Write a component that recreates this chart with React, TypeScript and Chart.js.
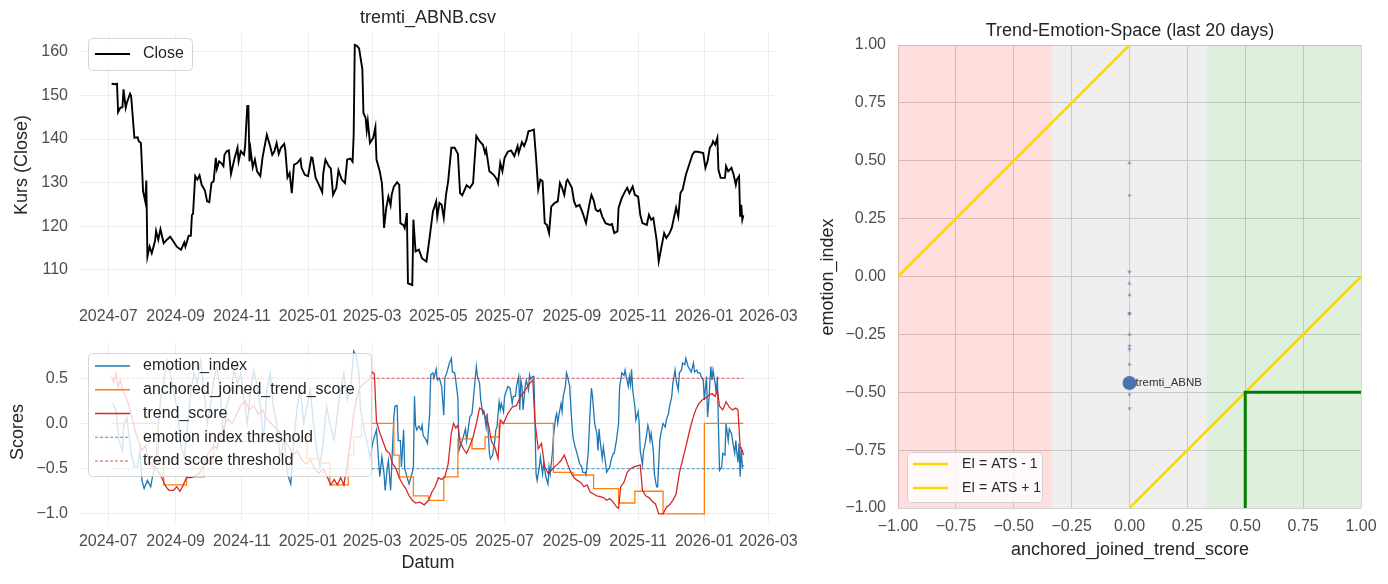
import React, { useEffect, useRef } from 'react';
import { Chart, registerables } from 'chart.js';

Chart.register(...registerables);

const FONT = "'Liberation Sans', Arial, 'DejaVu Sans', sans-serif";

// ---------- DATA ----------
const START_DATE = '2024-07-01'; // day 0 of the day offsets below
const monthTickLabels = ['2024-07', '2024-09', '2024-11', '2025-01', '2025-03', '2025-05', '2025-07', '2025-09', '2025-11', '2026-01', '2026-03'];
const priceTicks = [110, 120, 130, 140, 150, 160];
const scoreTicks = [-1, -0.5, 0, 0.5];
const spaceTicks = [-1, -0.75, -0.5, -0.25, 0, 0.25, 0.5, 0.75, 1];

// Close price (trading day offsets after START_DATE)
const closeDay = [3, 7, 8, 9, 11, 13, 14, 16, 17, 20, 21, 24, 27, 28, 30, 32, 34, 35, 36, 38, 40, 43, 44, 46, 48, 51, 54, 57, 60, 63, 67, 70, 71, 74, 76, 77, 78, 80, 82, 84, 86, 89, 91, 93, 95, 97, 99, 100, 102, 104, 106, 107, 109, 111, 113, 116, 119, 120, 122, 125, 126, 128, 129, 130, 131, 133, 135, 137, 140, 142, 144, 146, 149, 151, 153, 155, 157, 159, 162, 163, 165, 167, 169, 171, 174, 177, 178, 181, 184, 187, 188, 191, 194, 197, 198, 200, 203, 205, 207, 210, 212, 215, 218, 220, 223, 225, 226, 227, 229, 231, 234, 235, 237, 238, 239, 241, 244, 246, 247, 250, 252, 253, 254, 256, 258, 260, 261, 263, 266, 268, 269, 272, 273, 275, 276, 280, 281, 283, 286, 289, 293, 296, 299, 302, 303, 305, 307, 309, 311, 313, 316, 319, 322, 324, 326, 330, 333, 336, 337, 339, 342, 345, 347, 348, 351, 355, 358, 359, 361, 363, 365, 368, 371, 374, 377, 378, 381, 383, 385, 387, 390, 392, 394, 396, 398, 400, 402, 404, 406, 408, 411, 414, 416, 418, 420, 422, 423, 427, 429, 431, 434, 437, 440, 443, 445, 447, 449, 451, 453, 455, 458, 462, 464, 466, 469, 470, 473, 476, 478, 480, 483, 485, 488, 490, 492, 496, 498, 500, 502, 505, 507, 509, 512, 514, 517, 519, 523, 525, 527, 529, 532, 535, 538, 540, 543, 548, 550, 552, 554, 556, 557, 559, 561, 562, 564, 568, 569, 571, 574, 576, 578, 579, 581, 582, 583, 584, 585];
const closeValue = [152.7, 152.6, 152.7, 146.2, 147.2, 147.3, 151.4, 147.2, 148.3, 150.4, 149.9, 140.3, 140.4, 139.5, 139.1, 128.0, 125.7, 130.5, 113.0, 115.3, 113.8, 116.6, 118.9, 116.9, 119.3, 116.1, 116.9, 117.6, 116.5, 115.3, 114.6, 116.3, 115.3, 117.8, 117.8, 122.6, 122.8, 131.5, 130.7, 131.7, 129.5, 128.2, 125.7, 125.5, 129.9, 130.3, 135.7, 133.2, 134.9, 134.5, 133.8, 136.4, 137.2, 137.4, 132.0, 135.3, 138.0, 134.9, 137.2, 136.4, 138.4, 147.6, 147.6, 134.9, 137.6, 133.5, 135.3, 132.6, 131.5, 135.7, 138.4, 141.0, 138.4, 136.4, 137.2, 139.1, 136.6, 138.0, 138.9, 137.6, 131.2, 132.2, 127.6, 134.1, 134.5, 135.4, 133.4, 131.8, 131.5, 135.8, 135.7, 131.1, 129.5, 127.8, 132.2, 135.3, 133.8, 133.2, 127.2, 128.8, 132.8, 130.7, 129.9, 135.3, 135.5, 134.8, 141.0, 161.6, 161.4, 160.8, 156.0, 146.0, 144.9, 142.0, 144.1, 139.1, 140.3, 142.7, 135.3, 132.6, 129.9, 125.7, 119.6, 124.2, 126.8, 124.8, 127.2, 129.1, 130.1, 129.5, 120.7, 120.2, 119.6, 123.0, 106.9, 106.5, 121.5, 114.2, 114.6, 112.6, 111.9, 117.5, 123.4, 125.7, 122.2, 125.3, 124.9, 121.9, 127.1, 130.3, 138.0, 138.0, 136.6, 127.6, 127.1, 129.4, 128.8, 129.9, 133.8, 140.7, 139.5, 138.7, 136.8, 137.6, 132.6, 131.8, 130.7, 129.9, 134.5, 132.6, 135.7, 137.1, 137.4, 136.1, 138.4, 136.8, 139.3, 138.4, 139.7, 141.8, 142.0, 142.2, 135.7, 128.4, 130.7, 130.3, 120.7, 120.3, 118.4, 124.5, 125.3, 125.7, 129.9, 128.8, 127.2, 130.3, 130.7, 128.8, 125.7, 124.5, 124.9, 123.0, 120.7, 124.9, 127.2, 126.0, 123.8, 123.4, 123.8, 122.2, 120.7, 120.3, 120.5, 118.4, 118.8, 124.2, 126.5, 128.0, 128.8, 127.6, 129.1, 127.2, 126.8, 122.6, 120.7, 120.3, 122.6, 121.5, 121.9, 116.9, 111.9, 114.6, 118.4, 117.3, 118.4, 119.6, 124.3, 122.2, 127.6, 128.4, 131.8, 134.1, 136.4, 137.1, 137.1, 136.8, 133.4, 134.9, 138.0, 138.7, 139.5, 138.7, 140.3, 133.0, 131.1, 131.1, 133.8, 132.6, 133.4, 131.8, 129.5, 130.7, 131.5, 122.2, 124.9, 121.5, 122.5];

// emotion_index
const emotionDay = [4, 7, 10, 13, 14, 17, 21, 24, 27, 29, 31, 33, 36, 39, 41, 44, 45, 48, 51, 54, 57, 63, 67, 70, 73, 76, 79, 82, 85, 88, 91, 94, 97, 100, 103, 106, 109, 113, 116, 119, 122, 125, 128, 131, 134, 137, 140, 143, 146, 149, 152, 155, 158, 162, 165, 168, 171, 174, 177, 180, 183, 186, 189, 192, 195, 198, 201, 204, 208, 211, 214, 217, 220, 223, 226, 228, 231, 232, 235, 238, 241, 244, 247, 250, 252, 254, 255, 257, 258, 260, 261, 263, 264, 266, 267, 269, 270, 272, 273, 276, 277, 280, 281, 282, 283, 284, 286, 288, 289, 290, 293, 294, 296, 297, 299, 300, 302, 303, 305, 307, 309, 310, 312, 314, 316, 317, 319, 320, 322, 323, 325, 326, 329, 330, 332, 333, 335, 337, 339, 340, 342, 343, 345, 346, 348, 349, 351, 352, 354, 356, 357, 358, 360, 361, 362, 364, 365, 367, 368, 370, 372, 373, 375, 376, 378, 379, 380, 381, 382, 384, 385, 387, 388, 389, 391, 392, 393, 394, 395, 397, 398, 400, 401, 403, 405, 406, 407, 409, 410, 412, 413, 414, 415, 417, 418, 419, 421, 422, 423, 425, 426, 427, 428, 430, 431, 433, 434, 436, 437, 439, 440, 442, 444, 445, 446, 447, 448, 450, 451, 452, 453, 455, 456, 458, 459, 460, 462, 463, 465, 466, 468, 470, 471, 472, 473, 475, 476, 477, 479, 480, 481, 482, 483, 485, 486, 488, 489, 490, 492, 493, 494, 496, 497, 498, 499, 500, 502, 503, 505, 506, 508, 509, 511, 513, 514, 516, 517, 519, 520, 522, 523, 525, 526, 528, 529, 531, 532, 534, 536, 537, 539, 540, 542, 543, 545, 546, 548, 549, 551, 552, 553, 555, 556, 557, 559, 560, 561, 562, 563, 565, 566, 568, 569, 571, 572, 574, 575, 577, 578, 579, 580, 581, 582, 583, 584, 585];
const emotionValue = [0.22, 0.15, -0.19, -0.30, -0.04, 0.07, -0.33, -0.48, -0.48, -0.30, -0.63, -0.72, -0.63, -0.70, -0.57, -0.44, -0.19, 0.26, 0.44, 0.70, 0.55, 0.19, -0.26, -0.37, -0.04, 0.37, 0.56, 0.44, 0.70, 0.37, 0.00, 0.19, 0.48, 0.63, 0.37, -0.19, 0.19, 0.37, 0.59, 0.44, 0.56, 0.26, 0.00, 0.37, 0.59, 0.41, 0.19, -0.19, 0.37, 0.56, 0.19, 0.00, -0.37, -0.19, -0.56, -0.67, -0.19, 0.19, 0.37, 0.00, 0.19, 0.37, 0.00, -0.30, -0.48, -0.19, 0.19, 0.00, -0.19, 0.11, 0.37, 0.56, 0.26, 0.37, 0.80, 0.76, 0.56, 0.19, -0.04, -0.19, -0.37, -0.19, -0.07, -0.59, -0.37, -0.56, -0.74, -0.48, -0.41, -0.74, -0.48, 0.07, 0.19, 0.20, -0.19, -0.19, -0.48, -0.07, -0.50, -0.63, -0.67, -0.54, -0.48, 0.30, -0.02, -0.07, -0.03, -0.07, -0.02, -0.13, -0.19, -0.22, 0.11, 0.54, 0.56, 0.50, 0.60, 0.48, 0.50, 0.41, 0.09, 0.50, 0.57, 0.66, 0.72, 0.57, 0.56, 0.48, 0.28, -0.30, -0.22, -0.19, -0.06, -0.19, -0.02, 0.07, 0.11, 0.37, 0.63, 0.52, 0.44, 0.26, 0.11, 0.13, -0.04, 0.11, -0.33, -0.39, -0.35, -0.19, -0.07, -0.04, 0.24, 0.15, 0.22, 0.13, 0.30, 0.37, 0.41, 0.39, 0.22, 0.30, 0.30, 0.41, 0.52, 0.15, 0.48, 0.41, 0.15, 0.41, 0.48, 0.37, 0.54, 0.49, 0.52, 0.52, 0.02, -0.56, -0.63, -0.48, -0.37, -0.56, -0.44, -0.59, -0.67, -0.48, -0.56, -0.33, -0.15, 0.07, 0.11, 0.00, 0.09, 0.22, 0.13, 0.30, 0.41, 0.56, 0.52, 0.41, 0.19, 0.00, -0.15, -0.26, -0.30, -0.39, -0.44, -0.48, -0.54, -0.54, -0.57, -0.33, 0.19, 0.39, 0.30, 0.15, 0.00, -0.11, -0.30, -0.06, -0.19, -0.39, -0.26, -0.44, -0.54, -0.52, -0.48, -0.41, -0.33, -0.33, -0.19, 0.00, 0.41, 0.48, 0.56, 0.53, 0.59, 0.52, 0.41, 0.52, 0.43, 0.60, 0.37, 0.19, 0.04, 0.13, 0.00, -0.30, -0.46, -0.30, -0.26, -0.11, -0.02, -0.07, -0.19, -0.11, -0.30, -0.56, -0.70, -0.70, -0.19, -0.11, 0.00, -0.04, 0.04, 0.11, 0.19, 0.30, 0.44, 0.59, 0.48, 0.37, 0.56, 0.59, 0.67, 0.65, 0.72, 0.63, 0.59, 0.57, 0.67, 0.57, 0.59, 0.56, 0.56, 0.52, 0.48, 0.26, 0.52, 0.07, 0.22, 0.63, 0.48, 0.59, 0.44, 0.33, 0.52, -0.04, -0.52, -0.48, -0.33, -0.35, 0.00, -0.19, -0.06, -0.11, -0.19, -0.33, -0.19, -0.33, -0.43, -0.22, -0.59, -0.26, -0.48, -0.46];

// trend_score
const trendDay = [3, 5, 7, 9, 11, 13, 16, 19, 22, 25, 28, 31, 34, 37, 40, 44, 47, 50, 53, 56, 60, 63, 66, 69, 72, 76, 80, 84, 88, 91, 94, 97, 100, 103, 106, 110, 114, 118, 122, 126, 130, 134, 138, 142, 146, 150, 154, 158, 162, 166, 170, 174, 178, 182, 186, 190, 194, 198, 202, 205, 208, 211, 214, 217, 220, 223, 226, 229, 232, 236, 240, 243, 245, 247, 250, 253, 256, 259, 262, 265, 268, 271, 274, 277, 280, 283, 287, 291, 295, 298, 301, 304, 307, 310, 313, 316, 318, 320, 322, 324, 327, 330, 333, 336, 339, 342, 345, 348, 350, 353, 356, 359, 361, 364, 368, 372, 376, 380, 384, 388, 391, 393, 396, 399, 402, 405, 408, 411, 414, 417, 420, 423, 426, 429, 432, 435, 438, 441, 444, 447, 450, 453, 456, 459, 462, 465, 468, 470, 472, 475, 478, 481, 484, 487, 490, 492, 495, 498, 501, 504, 507, 511, 514, 517, 520, 523, 526, 529, 532, 535, 538, 541, 544, 547, 550, 553, 556, 559, 561, 563, 566, 569, 572, 575, 578, 580, 582, 584, 585];
const trendValue = [0.52, 0.45, 0.55, 0.40, 0.48, 0.38, 0.30, 0.20, 0.05, -0.10, -0.20, -0.30, -0.25, -0.40, -0.45, -0.50, -0.55, -0.62, -0.70, -0.74, -0.74, -0.70, -0.75, -0.68, -0.60, -0.60, -0.58, -0.55, -0.45, -0.35, -0.30, -0.25, -0.28, -0.15, -0.05, 0.05, 0.00, 0.10, 0.20, 0.25, 0.15, 0.20, 0.10, 0.15, 0.05, 0.00, -0.05, -0.10, -0.20, -0.25, -0.35, -0.30, -0.40, -0.45, -0.40, -0.50, -0.55, -0.50, -0.60, -0.68, -0.62, -0.68, -0.60, -0.68, -0.45, -0.20, 0.10, 0.30, 0.40, 0.45, 0.48, 0.57, 0.55, 0.02, -0.10, -0.20, -0.30, -0.33, -0.45, -0.50, -0.60, -0.67, -0.72, -0.80, -0.85, -0.88, -0.87, -0.90, -0.85, -0.76, -0.70, -0.60, -0.62, -0.59, -0.45, -0.10, 0.00, -0.05, -0.02, -0.20, -0.28, -0.33, -0.25, -0.15, 0.00, 0.17, 0.15, 0.05, 0.00, -0.20, -0.26, -0.39, 0.04, 0.00, 0.11, 0.18, 0.20, 0.30, 0.37, 0.44, 0.48, 0.02, -0.28, -0.22, -0.48, -0.55, -0.52, -0.48, -0.45, -0.41, -0.35, -0.45, -0.54, -0.60, -0.63, -0.65, -0.70, -0.68, -0.76, -0.78, -0.80, -0.81, -0.82, -0.85, -0.83, -0.87, -0.92, -0.94, -0.70, -0.65, -0.54, -0.50, -0.48, -0.47, -0.46, -0.74, -0.80, -0.82, -0.86, -0.89, -1.00, -1.00, -0.93, -0.90, -0.85, -0.78, -0.55, -0.40, -0.26, -0.10, 0.04, 0.15, 0.22, 0.26, 0.28, 0.31, 0.33, 0.30, 0.37, 0.19, 0.15, 0.24, 0.18, 0.15, 0.17, 0.15, -0.26, -0.30, -0.35];

// anchored_joined_trend_score (step changes: value starting at that day)
const anchoredDay = [3, 46, 51, 72, 88, 97, 183, 195, 204, 221, 226, 233, 263, 268, 281, 295, 309, 322, 335, 347, 360, 410, 428, 447, 470, 485, 511, 549, 585];
const anchoredValue = [0.0, -0.45, -0.68, -0.59, -0.44, -0.2, -0.39, -0.44, -0.68, -0.35, -0.15, 0.0, -0.35, -0.59, -0.8, -0.85, -0.59, -0.17, -0.28, -0.15, 0.0, -0.54, -0.57, -0.72, -0.88, -0.75, -1.0, 0.0, 0.0];

const emotionThreshold = -0.5;
const trendThreshold = 0.5;

// Trend-Emotion-Space (last 20 days)
const zoneEdges = [-1, -1 / 3, 1 / 3, 1];
const zoneColors = ['rgba(255,0,0,0.13)', 'rgba(128,128,128,0.13)', 'rgba(0,128,0,0.13)'];
const pathATS = [0, 0, 0, 0, 0, 0, 0, 0, 0, 0, 0, 0, 0];
const pathEI = [0.49, 0.35, 0.02, -0.03, -0.08, -0.16, -0.16, -0.25, -0.30, -0.315, -0.38, -0.51, -0.57];
const pathArrowDir = ['up', 'down', 'down', 'up', 'up', 'up', 'down', 'up', 'down', 'down', 'up', 'down', 'down'];
const currentATS = 0;
const currentEI = -0.46;
const tickerLabel = 'tremti_ABNB';

// ---------- HELPERS ----------
const dayOf = (iso: string) => {
  const [y, m, d] = iso.split('-').map(Number);
  const [y0, m0, d0] = START_DATE.split('-').map(Number);
  return (Date.UTC(y, m - 1, d || 1) - Date.UTC(y0, m0 - 1, d0)) / 86400000;
};
const monthTickDays = monthTickLabels.map(dayOf);
const minus = (v: number, d: number) => (v < 0 ? '\u2212' : '') + Math.abs(v).toFixed(d);
const pts = (xs: number[], ys: number[]) => xs.map((x, i) => ({ x, y: ys[i] }));

const firstDay = Math.min(closeDay[0], emotionDay[0], trendDay[0]);
const lastDay = Math.max(closeDay[closeDay.length - 1], emotionDay[emotionDay.length - 1]);
const xPad = (lastDay - firstDay) * 0.05;
const X_MIN = firstDay - xPad;
const X_MAX = lastDay + xPad;

const cMin = Math.min(...closeValue), cMax = Math.max(...closeValue);
const cPad = (cMax - cMin) * 0.05;
const sAll = [...emotionValue, ...trendValue, ...anchoredValue];
const sMin = Math.min(...sAll), sMax = Math.max(...sAll);
const sPad = (sMax - sMin) * 0.05;

const TICK_COLOR = '#4d4d4d';
const LABEL_COLOR = '#262626';
const TICK_SIZE = 16;
const LABEL_SIZE = 18;

function text(ctx: CanvasRenderingContext2D, s: string, x: number, y: number, size: number, color: string, rotate = 0, align: CanvasTextAlign = 'center') {
  ctx.save();
  ctx.translate(x, y);
  if (rotate) ctx.rotate(rotate);
  ctx.font = `${size}px ${FONT}`;
  ctx.fillStyle = color;
  ctx.textAlign = align;
  ctx.textBaseline = 'middle';
  ctx.fillText(s, 0, 0);
  ctx.restore();
}

type LegendItem = { label: string; color: string; width: number; dash?: number[] };
function legend(ctx: CanvasRenderingContext2D, x: number, y: number, w: number, h: number, items: LegendItem[], firstY: number, step: number, l0: number, l1: number, tx: number, size: number) {
  ctx.save();
  ctx.beginPath();
  (ctx as any).roundRect(x + 0.5, y + 0.5, w, h, 4);
  ctx.fillStyle = 'rgba(255,255,255,0.8)';
  ctx.fill();
  ctx.strokeStyle = 'rgba(204,204,204,0.8)';
  ctx.lineWidth = 1;
  ctx.stroke();
  items.forEach((it, i) => {
    const yy = firstY + i * step;
    ctx.beginPath();
    ctx.setLineDash(it.dash || []);
    ctx.strokeStyle = it.color;
    ctx.lineWidth = it.width;
    ctx.moveTo(l0, yy);
    ctx.lineTo(l1, yy);
    ctx.stroke();
    ctx.setLineDash([]);
    text(ctx, it.label, tx, yy, size, LABEL_COLOR, 0, 'left');
  });
  ctx.restore();
}

const baseOptions = (padding: any) => ({
  responsive: false,
  maintainAspectRatio: false,
  animation: false as const,
  devicePixelRatio: 1,
  events: [] as any[],
  layout: { padding },
  plugins: { legend: { display: false }, tooltip: { enabled: false }, title: { display: false } },
});

const tickFont = { family: FONT, size: TICK_SIZE };

const dateAxis = (height: number, grid: string) => ({
  type: 'linear' as const,
  min: X_MIN,
  max: X_MAX,
  afterBuildTicks: (s: any) => { s.ticks = monthTickDays.map((v) => ({ value: v })); },
  afterFit: (s: any) => { s.height = height; },
  ticks: { callback: (_v: any, i: number) => monthTickLabels[i], font: tickFont, color: TICK_COLOR, padding: 10, maxRotation: 0, autoSkip: false },
  grid: { color: grid, lineWidth: 1, drawTicks: false },
  border: { display: false },
});

const valueAxis = (min: number, max: number, ticks: number[], fmt: (v: number) => string, width: number, grid: string) => ({
  type: 'linear' as const,
  min,
  max,
  afterBuildTicks: (s: any) => { s.ticks = ticks.map((v) => ({ value: v })); },
  afterFit: (s: any) => { s.width = width; },
  ticks: { callback: (v: any) => fmt(Number(v)), font: tickFont, color: TICK_COLOR, padding: 12 },
  grid: { color: grid, lineWidth: 1, drawTicks: false },
  border: { display: false },
});

const LEFT_GRID = '#ededed';

// canvas geometry (page pixels)
const LEFT_W = 840;           // left canvases are wider than the panels so edge tick labels fit
const PLOT_RIGHT = 775;       // right edge of the left plot areas
const SCORE_TOP = 310;        // top of the scores canvas

export default function App() {
  const priceRef = useRef<HTMLCanvasElement>(null);
  const scoreRef = useRef<HTMLCanvasElement>(null);
  const spaceRef = useRef<HTMLCanvasElement>(null);

  useEffect(() => {
    const charts: Chart[] = [];

    // ---- Price chart ----
    charts.push(new Chart(priceRef.current!, {
      type: 'line',
      data: {
        datasets: [{
          data: pts(closeDay, closeValue),
          borderColor: '#000000',
          borderWidth: 1.9,
          pointRadius: 0,
          tension: 0,
        }],
      },
      options: {
        ...baseOptions({ left: 0, top: 33, right: LEFT_W - PLOT_RIGHT, bottom: 0 }),
        scales: {
          x: dateAxis(33, LEFT_GRID),
          y: valueAxis(cMin - cPad, cMax + cPad, priceTicks, (v) => String(v), 80, LEFT_GRID),
        },
      } as any,
      plugins: [{
        id: 'decorPrice',
        afterDatasetsDraw(chart: any) {
          const ctx = chart.ctx;
          legend(ctx, 88, 38, 104, 32, [{ label: 'Close', color: '#000', width: 1.9 }], 54, 0, 95, 130, 143, 16);
        },
        afterDraw(chart: any) {
          const ctx = chart.ctx;
          text(ctx, 'tremti_ABNB.csv', 428, 18, LABEL_SIZE, LABEL_COLOR);
          text(ctx, 'Kurs (Close)', 22, 165, LABEL_SIZE, LABEL_COLOR, -Math.PI / 2);
        },
      }],
    }));

    // ---- Scores chart ----
    const thrDays = [firstDay, lastDay];
    const o = SCORE_TOP;
    charts.push(new Chart(scoreRef.current!, {
      type: 'line',
      data: {
        datasets: [
          { data: pts(emotionDay, emotionValue), borderColor: '#1f77b4', borderWidth: 1.3, pointRadius: 0, tension: 0, order: 5 },
          { data: pts(anchoredDay, anchoredValue), borderColor: '#ff7f0e', borderWidth: 1.3, pointRadius: 0, stepped: 'before', order: 4 },
          { data: pts(trendDay, trendValue), borderColor: '#d62728', borderWidth: 1.3, pointRadius: 0, tension: 0, order: 3 },
          { data: pts(thrDays, thrDays.map(() => emotionThreshold)), borderColor: '#1f77b4', borderWidth: 0.8, borderDash: [3, 2], pointRadius: 0, order: 2 },
          { data: pts(thrDays, thrDays.map(() => trendThreshold)), borderColor: '#d62728', borderWidth: 0.8, borderDash: [3, 2], pointRadius: 0, order: 1 },
        ],
      },
      options: {
        ...baseOptions({ left: 0, top: 343 - o, right: LEFT_W - PLOT_RIGHT, bottom: 0 }),
        scales: {
          x: dateAxis(584 - 522, LEFT_GRID),
          y: valueAxis(sMin - sPad, sMax + sPad, scoreTicks, (v) => minus(v, 1), 80, LEFT_GRID),
        },
      } as any,
      plugins: [{
        id: 'decorScores',
        afterDatasetsDraw(chart: any) {
          const ctx = chart.ctx;
          legend(ctx, 88, 353 - o, 283, 123, [
            { label: 'emotion_index', color: '#1f77b4', width: 1.3 },
            { label: 'anchored_joined_trend_score', color: '#ff7f0e', width: 1.3 },
            { label: 'trend_score', color: '#d62728', width: 1.3 },
            { label: 'emotion index threshold', color: '#1f77b4', width: 0.8, dash: [3, 2] },
            { label: 'trend score threshold', color: '#d62728', width: 0.8, dash: [3, 2] },
          ], 366 - o, 23.75, 95, 130, 143, 16);
        },
        afterDraw(chart: any) {
          const ctx = chart.ctx;
          text(ctx, 'Scores', 18, 432 - o, LABEL_SIZE, LABEL_COLOR, -Math.PI / 2);
          text(ctx, 'Datum', 428, 563 - o, LABEL_SIZE, LABEL_COLOR);
        },
      }],
    }));

    // ---- Trend-Emotion-Space ----
    charts.push(new Chart(spaceRef.current!, {
      type: 'scatter',
      data: {
        datasets: [
          { type: 'scatter', data: [{ x: currentATS, y: currentEI }], backgroundColor: '#4C72B0', borderWidth: 0, pointRadius: 7, order: 1 },
          {
            type: 'scatter', data: pts(pathATS, pathEI), backgroundColor: 'rgba(76,114,176,0.55)', borderWidth: 0,
            pointStyle: 'triangle', pointRadius: 2.6, pointRotation: pathArrowDir.map((d) => (d === 'up' ? 0 : 180)), order: 2,
          },
          { type: 'line', data: [{ x: 0.5, y: -1 }, { x: 0.5, y: -0.5 }, { x: 1, y: -0.5 }], borderColor: '#008000', borderWidth: 3, pointRadius: 0, order: 3 },
          { type: 'line', data: [{ x: 0, y: -1 }, { x: 1, y: 0 }], borderColor: '#FFD700', borderWidth: 2.5, pointRadius: 0, order: 4 },
          { type: 'line', data: [{ x: -1, y: 0 }, { x: 0, y: 1 }], borderColor: '#FFD700', borderWidth: 2.5, pointRadius: 0, order: 5 },
        ],
      },
      options: {
        ...baseOptions({ left: 0, top: 45, right: 27, bottom: 0 }),
        scales: {
          x: { ...valueAxis(-1, 1, spaceTicks, (v) => minus(v, 2), 0, '#d4d4d4'), afterFit: (s: any) => { s.height = 76; }, ticks: { callback: (v: any) => minus(Number(v), 2), font: tickFont, color: TICK_COLOR, padding: 9, maxRotation: 0, autoSkip: false } },
          y: valueAxis(-1, 1, spaceTicks, (v) => minus(v, 2), 108, '#d4d4d4'),
        },
      } as any,
      plugins: [{
        id: 'decorSpace',
        beforeDatasetsDraw(chart: any) {
          const ctx = chart.ctx;
          const { x, y } = chart.scales;
          const top = y.getPixelForValue(1), bottom = y.getPixelForValue(-1);
          ctx.save();
          for (let i = 0; i < zoneColors.length; i++) {
            const x0 = x.getPixelForValue(zoneEdges[i]);
            const x1 = x.getPixelForValue(zoneEdges[i + 1]);
            ctx.fillStyle = zoneColors[i];
            ctx.fillRect(x0, top, x1 - x0, bottom - top);
          }
          ctx.restore();
        },
        afterDatasetsDraw(chart: any) {
          const ctx = chart.ctx;
          const { x, y } = chart.scales;
          text(ctx, tickerLabel, x.getPixelForValue(currentATS) + 6, y.getPixelForValue(currentEI), 11.5, '#333333', 0, 'left');
          legend(ctx, 117, 452, 135, 50, [
            { label: 'EI = ATS - 1', color: '#FFD700', width: 2.5 },
            { label: 'EI = ATS + 1', color: '#FFD700', width: 2.5 },
          ], 464, 24, 123, 158, 172, 14);
        },
        afterDraw(chart: any) {
          const ctx = chart.ctx;
          text(ctx, 'Trend-Emotion-Space (last 20 days)', 340, 31, LABEL_SIZE, LABEL_COLOR);
          text(ctx, 'anchored_joined_trend_score', 340, 550, LABEL_SIZE, LABEL_COLOR);
          text(ctx, 'emotion_index', 38, 277, LABEL_SIZE, LABEL_COLOR, -Math.PI / 2);
        },
      }],
    }));

    return () => charts.forEach((c) => c.destroy());
  }, []);

  return (
    <div style={{ position: 'absolute', left: 0, top: 0, width: 1388, height: 584, background: '#ffffff', overflow: 'hidden' }}>
      <canvas ref={priceRef} width={LEFT_W} height={330} style={{ position: 'absolute', left: 0, top: 0, width: LEFT_W, height: 330 }} />
      <canvas ref={scoreRef} width={LEFT_W} height={584 - SCORE_TOP} style={{ position: 'absolute', left: 0, top: SCORE_TOP, width: LEFT_W, height: 584 - SCORE_TOP }} />
      <canvas ref={spaceRef} width={598} height={584} style={{ position: 'absolute', left: 790, top: 0, width: 598, height: 584 }} />
    </div>
  );
}
